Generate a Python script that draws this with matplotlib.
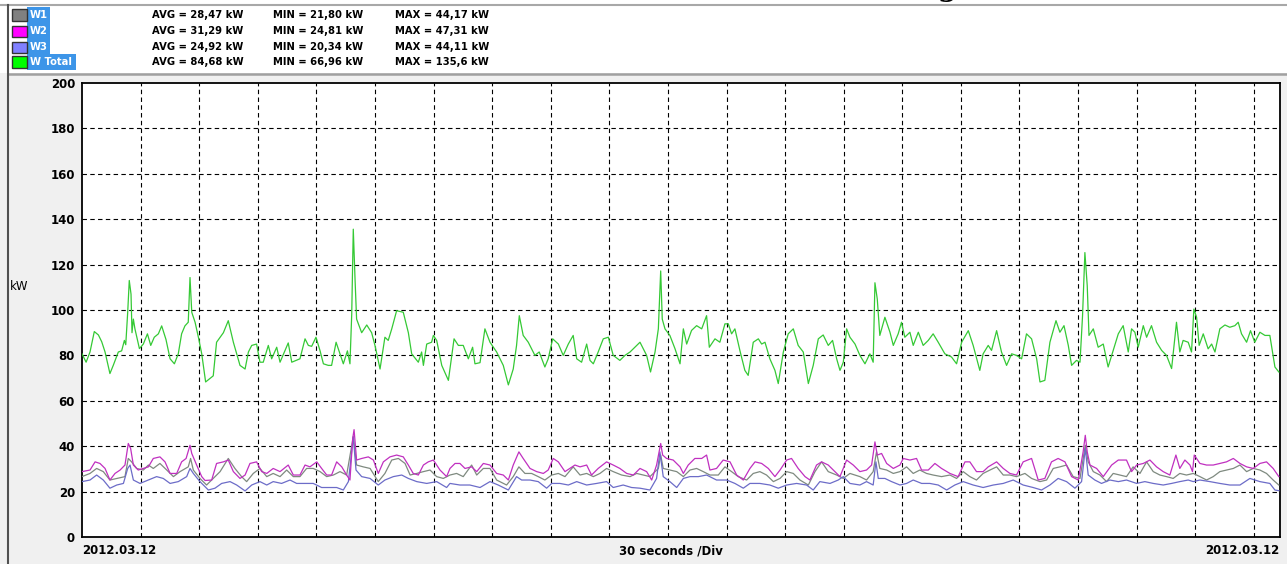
import matplotlib
matplotlib.use('Agg')
import matplotlib.pyplot as plt
from matplotlib.patches import Rectangle
from matplotlib.lines import Line2D

# ---------------- data ----------------
series_names = ['W1', 'W2', 'W3', 'W Total']
swatch_colors = ['#808080', '#ff00ff', '#8080ff', '#00ff00']
avg_labels = ['AVG = 28,47 kW', 'AVG = 31,29 kW', 'AVG = 24,92 kW', 'AVG = 84,68 kW']
min_labels = ['MIN = 21,80 kW', 'MIN = 24,81 kW', 'MIN = 20,34 kW', 'MIN = 66,96 kW']
max_labels = ['MAX = 44,17 kW', 'MAX = 47,31 kW', 'MAX = 44,11 kW', 'MAX = 135,6 kW']
y_ticks = [0, 20, 40, 60, 80, 100, 120, 140, 160, 180, 200]
date_label = '2012.03.12'
div_label = '30 seconds /Div'
seconds_per_div = 30
time_span = 613.4  # seconds shown

t_total = [0, 2.1, 4.1, 6.3, 8.4, 10.1, 11.8, 14.3, 16.0, 18.6,
           20.3, 21.7, 22.4, 23.4, 24.2, 25.1, 25.6, 26.3, 27.1, 29.4,
           31.4, 33.5, 35.2, 37.0, 39.1, 40.8, 43.0, 45.1, 47.3, 49.3,
           51.0, 52.7, 54.4, 55.3, 56.2, 57.9, 59.6, 61.3, 63.3, 65.5,
           67.2, 68.9, 72.4, 74.9, 77.5, 80.9, 83.5, 85.2, 86.9, 89.4,
           91.1, 92.8, 95.4, 97.1, 99.7, 101.4, 105.6, 107.4, 111.6, 114.2,
           115.9, 117.6, 119.8, 121.9, 123.6, 126.1, 127.8, 130.1, 132.1, 133.8,
           135.9, 137.2, 138.1, 138.9, 139.8, 140.6, 143.2, 145.8, 148.3, 150.0,
           152.6, 155.1, 156.8, 158.6, 161.1, 164.5, 167.1, 168.8, 172.2, 173.9,
           174.8, 176.5, 179.0, 179.9, 181.6, 184.2, 187.6,
           190.5, 192.7, 195.2, 197.8, 200.0, 201.2, 203.8, 206.3, 208.9, 212.3,
           215.7, 218.3, 220.8, 222.5, 223.9, 225.9, 228.5, 231.9, 234.1, 237.0,
           238.7, 241.0, 243.9, 246.4, 249.0, 251.5, 253.3, 255.8, 258.4, 260.1,
           261.8, 264.3, 266.9, 269.5, 272.0, 275.4, 278.0, 280.6, 283.1, 285.7,
           289.1, 291.1, 293.4, 295.1, 296.3, 297.1, 298.5, 301.0, 303.6, 306.2,
           307.9, 309.6, 312.1, 314.7, 317.3, 319.8, 321.2, 324.1, 326.6, 329.2,
           330.9, 332.6, 334.3, 336.9, 339.4, 341.1, 343.7, 346.3, 348.0, 349.7,
           352.2, 354.8, 356.5, 359.1, 361.6, 364.2, 366.7, 369.3, 371.9, 374.4,
           377.0, 379.5, 382.1, 384.3, 386.4, 388.1, 389.8, 391.5, 393.2, 395.8,
           398.3, 400.9, 403.4,
           405.1, 406.0, 407.2, 408.5, 411.1, 413.7, 415.4, 417.9, 419.6, 421.3,
           423.9, 425.6, 428.2, 430.7, 433.3, 435.8, 438.4, 441.8, 445.2, 447.8,
           450.4, 453.8, 456.3, 459.7, 461.4, 464.0, 465.7, 468.3, 470.8, 473.4,
           476.0, 478.5, 481.1, 483.6, 486.2, 488.8, 490.5, 493.0, 495.6, 498.7,
           500.7, 502.8, 505.0, 506.7, 509.2, 511.0, 512.3, 513.5, 514.7, 515.6,
           517.8, 520.3, 522.9, 525.4, 528.0, 530.6, 533.1, 535.7, 537.4, 539.1,
           540.8, 543.4, 545.1, 547.6, 550.2, 552.8, 555.3, 557.9, 560.4, 562.1,
           563.8, 566.4, 568.1, 569.3, 570.7, 572.0, 574.1, 576.6, 578.4, 580.1,
           582.6, 585.2, 587.7, 590.3, 592.0, 593.7, 596.3, 598.3, 600.5, 603.1,
           605.7, 608.2, 610.8, 612.8]
w_total = [80.7, 77, 81.5, 90.5, 89, 86, 81.5, 72, 75.6, 81.5,
           82, 86.6, 84.7, 99, 113, 107, 90, 96, 91.7, 83,
           85, 89.5, 84.4, 88, 89.5, 93, 87, 78.5, 76.3, 80.7,
           89.5, 93, 94.6, 114.3, 99, 94.6, 88, 80.7, 68.3, 69.8,
           71, 85.8, 90, 95.3, 85.8, 75.6, 74, 81.5, 84.4, 85,
           77, 77, 84.4, 78.5, 83.6, 77, 85.5, 77, 78.5, 87.3,
           84.4, 84, 88, 82, 76.3, 75.6, 75.6, 85.8, 80.7, 76.3,
           82, 76.3, 98, 135.6, 113.6, 96, 90, 93.4, 90, 84.4,
           74, 88, 86.6, 91.7, 99.7, 99, 90, 80.7, 77, 81.5,
           75.6, 85, 85.8, 88.8, 86.6, 75.6, 69,
           87.3, 84.4, 84.4, 78.5, 83.6, 76.3, 76.8, 91.7, 85.8, 81.5,
           75.6, 67.0, 74, 84.4, 97.5, 88.8, 85.8, 80, 81.5, 74.9,
           78.5, 87.3, 85, 80, 85, 88.8, 78.5, 77, 85, 77.8,
           76.3, 81.5, 87.3, 88, 80, 77.8, 80, 81.5, 83.6, 85.8,
           80, 72.7, 81.5, 91.7, 117.2, 96, 91.7, 88.8, 83, 76.3,
           91.7, 85, 91, 93.1, 91.7, 97.5, 83.6, 87.3, 85.8, 93.9,
           93.9, 89.5, 91.7, 82, 73.4, 71.2, 85.8, 87.3, 85, 85.8,
           78.5, 73.4, 67.6, 81.5, 89.5, 91.7, 84.4, 81.5, 67.6, 75.6,
           87.3, 89, 84.4, 86.6, 78.5, 73.4, 77, 91.7, 88, 85,
           80, 76.3, 80.7,
           77, 112, 104.8, 88.8, 96.8, 90.2, 84.4, 89.5, 94.6, 88,
           90.2, 84.4, 90.2, 84.4, 86.6, 89.5, 85.8, 80.7, 79.3, 76.3,
           85.8, 90.9, 84.4, 73.4, 80.7, 84.4, 82.2, 90.9, 81.5, 75.6,
           80.7, 80, 78.5, 89.5, 87.3, 78.5, 68.3, 69, 85.8, 95.3,
           90.2, 93.1, 84.4, 75.6, 77.8, 77, 97.5, 125.3, 110.7, 88.8,
           91.7, 83.6, 85, 74.9, 82.2, 89.5, 93.1, 81.5, 91.7, 90.2,
           83.6, 93.1, 88, 93.1, 85.8, 82.2, 80, 74.2, 94.6, 81.5,
           86.6, 85.8, 81.5, 100.4, 96.8, 84.4, 89.5, 82.9, 85, 81.5,
           91.7, 93.4, 92.4, 93.1, 94.6, 89.5, 85.8, 90.9, 85.8, 90.2,
           88.8, 88.8, 74.9, 72.7]

t_w2 = [0, 4.1, 6.7, 9.2, 11.8, 14.3, 16.9, 19.5, 22.0, 23.7,
        24.9, 26.3, 28.8, 31.4, 34.0, 36.5, 39.9, 42.5, 45.1, 48.5,
        51.0, 53.3, 55.3, 56.2, 58.7, 61.3, 63.0, 66.4, 68.9, 72.4,
        74.9, 77.5, 80.9, 83.5, 86.0, 89.4, 92.0, 94.6, 97.9, 101.4,
        105.6, 108.2, 111.6, 114.2, 116.7, 120.2, 122.7, 125.3, 127.8, 130.4,
        133.0, 135.5, 137.2, 138.6, 139.3, 140.6, 143.2, 146.6, 149.2, 151.7,
        154.3, 157.7, 161.1, 164.5, 167.1, 169.6, 172.2, 174.8, 177.3, 179.9,
        183.3, 186.7,
        188.4, 191.0, 193.5, 196.1, 199.5, 202.1, 205.5, 208.9, 212.3, 215.7,
        218.3, 220.8, 223.7, 225.9, 229.4, 232.8, 236.2, 238.7, 241.3, 243.9,
        247.3, 249.8, 252.4, 255.0, 258.4, 260.9, 264.3, 268.6, 272.0, 275.4,
        278.9, 282.3, 285.7, 289.1, 291.7, 294.2, 296.3, 297.3, 299.3, 302.7,
        306.2, 307.9, 310.4, 313.8, 317.3, 319.8, 321.5, 324.9, 328.3, 331.8,
        335.2, 338.6, 342.0, 344.6, 348.0, 351.4, 354.8, 357.4, 360.8, 363.3,
        366.7, 370.2, 372.7, 376.1, 378.7, 382.1, 385.5, 388.1, 391.5, 394.9,
        398.3,
        401.7, 404.3, 406.0, 407.2, 409.4, 412.0, 415.4, 418.8, 420.5, 423.9,
        427.3, 429.9, 433.3, 436.7, 440.1, 444.4, 448.6, 452.1, 454.6, 458.0,
        461.4, 464.0, 468.3, 471.7, 475.1, 478.5, 481.9, 486.2, 489.6, 493.0,
        496.4, 499.8, 503.3, 506.7, 510.1, 512.6, 513.7, 514.7, 516.1, 519.5,
        522.9, 527.2, 530.6, 534.8, 537.4, 540.0, 543.4, 546.8, 550.2, 553.6,
        557.0, 560.1, 562.1, 564.7, 567.3, 568.6, 569.5, 572.4, 575.8, 579.2,
        582.6, 586.0, 589.5, 592.9, 596.3, 599.7, 603.1, 606.5, 609.9, 612.8]
w2 = [28.8, 29.5, 33.1, 32.4, 30.2, 25.1, 28, 29.5, 31.7, 41.2,
      39, 31.7, 29.5, 30.2, 30.9, 34.6, 35.3, 33.1, 28, 28,
      33.1, 34.6, 40.4, 36.8, 31.7, 26.6, 24.9, 25.1, 32.4, 33.1,
      33.9, 28.8, 25.8, 27.3, 32.4, 33.1, 28.8, 28, 30.2, 28.8,
      31.7, 27.3, 27.3, 31.7, 30.9, 33.1, 30.2, 27.3, 27.3, 33.1,
      30.9, 27.3, 25.1, 43.4, 47.3, 33.9, 34.6, 35.3, 33.9, 28,
      33.1, 35.3, 36.1, 35.3, 31.7, 28, 27.3, 31.7, 33.1, 33.9,
      29.5, 26.6,
      30.2, 32.4, 32.4, 30.2, 30.9, 28.8, 32.4, 31.7, 28, 27.3,
      25.1, 31.7, 37.5, 34.6, 30.2, 28.8, 28, 29.5, 34.6, 33.1,
      28.8, 30.2, 31.7, 30.9, 31.7, 27.3, 30.2, 33.1, 31.7, 30.2,
      28, 27.3, 30.2, 28.8, 25.1, 31.7, 41.2, 36.1, 34.6, 33.9,
      30.9, 28, 31.7, 34.6, 34.6, 36.1, 29.5, 30.2, 33.9, 33.1,
      27.3, 25.1, 30.2, 33.1, 32.4, 30.2, 26.6, 29.5, 33.9, 34.6,
      30.2, 26.6, 25.1, 31.7, 33.1, 31.7, 28.8, 26.6, 33.9, 31.7,
      28.8,
      29.5, 31.7, 41.9, 36.1, 36.8, 32.4, 30.2, 31.7, 34.6, 33.9,
      34.6, 29.5, 29.5, 32.4, 30.2, 28, 26.6, 33.1, 33.1, 28.8,
      28.8, 30.9, 33.1, 30.2, 28, 27.3, 33.1, 34.6, 25.1, 25.8,
      33.1, 34.6, 33.1, 26.6, 25.1, 37.5, 44.8, 37.5, 31.7, 30.2,
      26.6, 31.7, 33.9, 33.9, 28.8, 31.7, 32.4, 33.9, 30.9, 28.8,
      27.3, 36.1, 30.2, 33.9, 31.7, 28.8, 36.1, 32.4, 31.7, 31.7,
      32.4, 33.1, 34.6, 32.4, 30.9, 30.2, 32.4, 33.1, 30.2, 26.6]

t_w1 = [0, 4.1, 7.5, 10.9, 14.3, 17.8, 22.0, 23.7, 25.4, 28.0,
        31.4, 34.0, 36.5, 39.9, 43.4, 46.8, 50.2, 54.4, 55.6, 57.0,
        60.4, 63.8, 67.2, 70.7, 74.9, 78.3, 81.7, 84.3, 87.7, 91.1,
        94.6, 97.9, 101.4, 104.8, 108.2, 111.6, 115.0, 118.4, 121.9, 125.3,
        128.7, 132.1, 135.5, 138.9, 140.6, 144.0, 147.5, 151.7, 155.1, 158.6,
        162.0, 165.4, 168.0, 171.4, 174.8, 178.2, 181.6, 185.0,
        188.4, 191.8, 195.2, 199.5, 202.1, 205.5, 208.9, 212.3, 217.4, 220.8,
        223.7, 226.8, 230.2, 233.6, 237.0, 240.5, 243.9, 247.3, 251.5, 255.0,
        258.4, 261.8, 265.2, 268.6, 272.0, 276.3, 280.6, 284.0, 287.4, 290.8,
        295.1, 296.3, 297.6, 301.0, 304.5, 307.9, 311.3, 314.7, 318.1, 321.5,
        325.8, 329.2, 332.6, 336.0, 340.3, 343.7, 347.1, 350.5, 354.0, 357.4,
        360.8, 364.2, 367.6, 371.9, 375.3, 378.7, 382.1, 386.4, 389.8, 393.2,
        398.3,
        401.7, 405.1, 406.8, 408.5, 412.0, 415.4, 418.8, 422.2, 425.6, 429.0,
        432.4, 435.8, 440.1, 444.4, 447.8, 451.2, 454.6, 458.0, 461.4, 464.9,
        468.3, 471.7, 475.1, 478.5, 482.8, 486.2, 490.5, 493.9, 497.3, 500.7,
        504.1, 507.5, 511.0, 513.7, 515.2, 517.8, 521.2, 524.6, 528.0, 531.4,
        534.8, 538.2, 541.7, 545.1, 548.5, 551.9, 555.3, 558.7, 562.1, 565.5,
        569.0, 572.4, 575.8, 579.2, 582.6, 586.0, 589.5, 592.9, 596.3, 599.7,
        603.1, 606.5, 609.9, 612.8]
w1 = [26.6, 28, 30.2, 28.8, 25.1, 25.8, 26.6, 34.6, 33.1, 30.2,
      29.5, 31.7, 30.2, 32.4, 29.5, 26.6, 28.8, 30.9, 34.6, 29.5,
      25.8, 22.9, 25.8, 28.8, 34.6, 30.2, 26.6, 24.4, 28, 30.2,
      26.6, 28, 26.6, 29.5, 26.6, 26.6, 30.2, 30.2, 28.8, 26.6,
      27.3, 28.8, 27.3, 44.2, 31.7, 30.9, 30.2, 24.4, 28, 33.9,
      34.6, 32.4, 27.3, 28, 28.8, 29.5, 26.6, 25.8,
      27.3, 28, 26.6, 31.7, 27.3, 30.2, 30.2, 25.1, 22.9, 26.6,
      30.9, 28, 28, 26.6, 25.1, 27.3, 28, 26.6, 30.9, 27.3,
      28, 26.6, 28, 30.2, 28.8, 27.3, 26.6, 28, 27.3, 26.6,
      30.2, 36.1, 30.2, 29.5, 28.8, 26.6, 29.5, 30.2, 28.8, 27.3,
      27.3, 30.9, 28.8, 26.6, 25.1, 28, 28.8, 27.3, 24.4, 25.8,
      28.8, 28, 25.1, 22.9, 28.8, 33.1, 28.8, 27.3, 25.8, 28,
      26.6,
      25.1, 28.8, 37.5, 30.2, 29.5, 28, 28.8, 30.9, 28, 29.5,
      28, 27.3, 26.6, 27.3, 25.8, 28.8, 26.6, 25.1, 28, 29.5,
      30.9, 27.3, 27.3, 26.6, 28, 25.8, 24.4, 25.1, 30.2, 30.9,
      31.7, 26.6, 25.8, 40.4, 33.1, 28.8, 27.3, 24.4, 28, 27.3,
      26.6, 30.9, 28, 33.1, 28.8, 27.3, 26.6, 25.8, 28, 27.3,
      28, 26.6, 25.1, 26.6, 28.8, 29.5, 30.2, 31.7, 28.8, 30.2,
      29.5, 28, 25.1, 22.9]

t_w3 = [0, 4.1, 7.5, 10.9, 14.3, 17.8, 21.2, 23.4, 24.6, 26.3,
        29.7, 34.0, 38.2, 41.6, 45.1, 49.3, 53.6, 55.3, 57.0, 60.4,
        64.7, 68.1, 71.5, 75.8, 79.2, 83.5, 86.9, 91.1, 94.6, 97.9,
        102.2, 106.5, 109.9, 113.3, 118.4, 122.7, 126.1, 130.4, 133.8, 136.4,
        138.9, 140.3, 143.2, 147.5, 151.7, 155.1, 159.4, 163.7, 167.1, 171.4,
        176.5, 181.6, 186.7,
        188.4, 193.5, 198.6, 203.8, 208.9, 213.1, 218.3, 222.5, 225.1, 229.4,
        233.6, 237.9, 240.5, 244.7, 249.0, 253.3, 258.4, 263.5, 268.6, 272.0,
        277.1, 281.4, 285.7, 290.8, 294.2, 295.9, 297.6, 301.0, 304.5, 307.9,
        311.3, 315.6, 319.8, 324.9, 330.1, 334.3, 338.6, 342.0, 347.1, 352.2,
        356.5, 360.8, 365.9, 371.0, 374.4, 377.8, 383.0, 387.2, 389.8, 393.2,
        398.3,
        401.7, 405.1, 406.5, 407.7, 411.1, 414.5, 418.8, 422.2, 425.6, 429.9,
        434.1, 438.4, 442.7, 446.9, 451.2, 456.3, 461.4, 466.6, 471.7, 476.8,
        481.9, 487.0, 491.3, 495.6, 499.8, 504.1, 508.4, 511.8, 513.7, 515.2,
        518.6, 522.0, 526.3, 530.6, 534.8, 540.0, 544.2, 548.5, 553.6, 557.9,
        562.1, 566.4, 569.0, 572.4, 577.5, 582.6, 587.7, 592.9, 598.0, 603.1,
        608.2, 610.8, 612.8]
w3 = [24.4, 25.1, 27.3, 25.1, 21.5, 22.9, 23.6, 30.2, 31.7, 25.1,
      23.6, 25.1, 26.6, 25.8, 23.6, 24.4, 26.6, 30.2, 28, 24.4,
      20.7, 21.5, 23.6, 24.4, 22.9, 20.3, 22.9, 24.4, 22.9, 24.4,
      23.6, 25.1, 23.6, 23.6, 23.6, 21.8, 21.8, 21.8, 20.7, 24.4,
      44.1, 29.5, 26.6, 25.8, 22.9, 25.1, 26.6, 27.3, 25.8, 24.4,
      23.6, 24.4, 21.8,
      23.6, 22.9, 22.9, 21.8, 24.4, 22.9, 20.7, 26.6, 25.1, 25.1,
      24.4, 21.5, 23.6, 23.6, 22.9, 24.4, 22.9, 23.6, 24.4, 21.8,
      22.9, 21.8, 21.5, 20.7, 25.8, 37.5, 26.6, 24.4, 21.8, 25.8,
      26.6, 26.6, 27.3, 25.1, 25.1, 23.6, 21.5, 23.6, 23.6, 22.9,
      21.5, 22.9, 23.6, 22.9, 20.7, 24.4, 23.6, 25.1, 26.6, 23.6,
      22.9,
      24.4, 22.9, 33.1, 25.8, 25.8, 24.4, 22.9, 23.6, 25.1, 23.6,
      23.6, 22.9, 20.7, 22.9, 24.4, 22.9, 21.8, 22.9, 23.6, 25.1,
      22.9, 21.8, 20.7, 22.9, 25.8, 24.4, 21.5, 24.4, 39, 27.3,
      25.1, 23.6, 25.1, 24.4, 25.1, 23.6, 24.4, 23.6, 22.9, 23.6,
      24.4, 25.1, 24.4, 25.1, 24.4, 23.6, 22.9, 22.9, 25.8, 24.4,
      23.6, 20.7, 20.4]

# ---------------- figure ----------------
W, H = 1287, 564
fig = plt.figure(figsize=(W / 100, H / 100), dpi=100, facecolor='#f0f0f0')


def fx(x):
    return x / W


def fy(y):
    return 1 - y / H


# header panel
fig.patches.append(Rectangle((0, fy(73)), 1, 73 / H, transform=fig.transFigure,
                             facecolor='white', edgecolor='none', zorder=0))
fig.add_artist(Line2D([0, 1], [fy(4.5)] * 2, color='#a8a8a8', lw=1.5))
fig.add_artist(Line2D([fx(8), 1], [fy(73.5)] * 2, color='#a0a0a0', lw=1.8))
fig.add_artist(Line2D([fx(8)] * 2, [fy(5), 0], color='#505050', lw=1.5))

# partially visible title glyph at the very top
fig.text(fx(938), 1.0075, 'g', family='DejaVu Serif', fontsize=20,
         fontweight='bold', va='baseline', ha='left', color='black')

row_y = [15, 31, 47, 62]
name_w = [23, 23, 23, 49]
for i, name in enumerate(series_names):
    y = row_y[i]
    fig.patches.append(Rectangle((fx(27), fy(y + 8)), name_w[i] / W, 16 / H,
                                 transform=fig.transFigure, facecolor='#3d95e8',
                                 edgecolor='none', zorder=1))
    fig.patches.append(Rectangle((fx(12), fy(y + 5.5)), 15 / W, 11 / H,
                                 transform=fig.transFigure, facecolor=swatch_colors[i],
                                 edgecolor='#333333', lw=1, zorder=2))
    fig.text(fx(30), fy(y), name, color='white', fontsize=7.2, fontweight='bold',
             va='center', ha='left', zorder=3)
    fig.text(fx(152), fy(y), avg_labels[i], fontsize=7.2, fontweight='bold',
             va='center', ha='left')
    fig.text(fx(273), fy(y), min_labels[i], fontsize=7.2, fontweight='bold',
             va='center', ha='left')
    fig.text(fx(395), fy(y), max_labels[i], fontsize=7.2, fontweight='bold',
             va='center', ha='left')

# plot area
ax = fig.add_axes([fx(82), fy(537), (1280 - 82) / W, (537 - 83) / H])
ax.set_facecolor('white')
ax.set_xlim(0, time_span)
ax.set_ylim(y_ticks[0], y_ticks[-1])

for v in y_ticks[1:-1]:
    ax.axhline(v, color='black', lw=0.8, ls=(0, (4, 3)), zorder=1)
t = seconds_per_div
while t < time_span:
    ax.axvline(t, color='black', lw=0.8, ls=(0, (4, 3)), zorder=1)
    t += seconds_per_div

ax.plot(t_total, w_total, color='#35c935', lw=0.9, zorder=3)
ax.plot(t_w1, w1, color='#7f8a80', lw=0.9, zorder=3)
ax.plot(t_w3, w3, color='#6c6cc8', lw=0.9, zorder=3)
ax.plot(t_w2, w2, color='#c030c0', lw=0.9, zorder=4)

ax.set_yticks(y_ticks)
ax.set_yticklabels([str(v) for v in y_ticks], fontsize=8.5, fontweight='bold')
ax.set_xticks([])
ax.tick_params(axis='y', length=0, pad=5)
for s in ax.spines.values():
    s.set_color('black')
    s.set_linewidth(1.3)

fig.text(fx(10), fy(286), 'kW', fontsize=8.5, va='center', ha='left')
fig.text(fx(82), fy(551), date_label, fontsize=8.5, fontweight='bold',
         va='center', ha='left')
fig.text(fx(671), fy(551), div_label, fontsize=8.5, fontweight='bold',
         va='center', ha='center')
fig.text(fx(1279), fy(551), date_label, fontsize=8.5, fontweight='bold',
         va='center', ha='right')

fig.savefig('out.png', dpi=100, facecolor=fig.get_facecolor())
